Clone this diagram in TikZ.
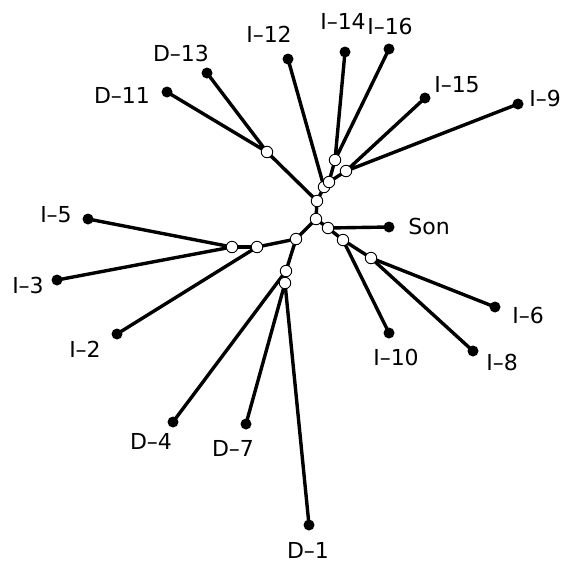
\documentclass[tikz,border=0pt]{standalone}
\usepackage{fontspec}
\setmainfont{DejaVu Sans}
\usetikzlibrary{backgrounds}
\tikzset{
  leaf/.style={circle,fill=black,inner sep=0pt,minimum size=11pt},
  inner/.style={circle,draw=black,fill=white,line width=0.9pt,inner sep=0pt,minimum size=11.5pt},
  lbl/.style={inner sep=0pt,font=\fontsize{22}{24}\selectfont},
  branch/.style={line width=3.4pt}
}
\begin{document}
\begin{tikzpicture}[x=1pt,y=-1pt]
\useasboundingbox (0,0) rectangle (570,563);
% leaves
\node[leaf] (D11) at (167,92) {};
\node[leaf] (D13) at (207,73) {};
\node[leaf] (I12) at (288,59) {};
\node[leaf] (I14) at (345,52) {};
\node[leaf] (I16) at (389,49) {};
\node[leaf] (I15) at (425,98) {};
\node[leaf] (I9) at (518,104) {};
\node[leaf] (I5) at (88,219) {};
\node[leaf] (I3) at (57,280) {};
\node[leaf] (I2) at (117,334) {};
\node[leaf] (D4) at (173,422) {};
\node[leaf] (D7) at (246,424) {};
\node[leaf] (D1) at (309,525) {};
\node[leaf] (Son) at (389,227) {};
\node[leaf] (I10) at (389,333) {};
\node[leaf] (I8) at (473,351) {};
\node[leaf] (I6) at (495,307) {};
% internal
\node[inner] (A) at (267,152) {};
\node[inner] (B) at (335,160) {};
\node[inner] (C) at (346,171) {};
\node[inner] (E) at (324,187) {};
\node[inner] (D) at (329,182) {};
\node[inner] (F) at (317,201) {};
\node[inner] (G) at (316,219) {};
\node[inner] (H) at (328,228) {};
\node[inner] (I) at (343,240) {};
\node[inner] (J) at (371,258) {};
\node[inner] (K) at (296,239) {};
\node[inner] (L) at (257,247) {};
\node[inner] (M) at (232,247) {};
\node[inner] (O) at (285,283) {};
\node[inner] (N) at (286,271) {};
% branches
\begin{scope}[on background layer]
\fill[white] (0,0) rectangle (570,563);
\draw[branch] (D11.center) -- (A.center) -- (D13.center);
\draw[branch] (A.center) -- (F.center);
\draw[branch] (I14.center) -- (B.center) -- (I16.center);
\draw[branch] (I15.center) -- (C.center) -- (I9.center);
\draw[branch] (B.center) -- (D.center) -- (C.center);
\draw[branch] (D.center) -- (E.center);
\draw[branch] (I12.center) -- (E.center);
\draw[branch] (E.center) -- (F.center);
\draw[branch] (F.center) -- (G.center);
\draw[branch] (G.center) -- (H.center);
\draw[branch] (H.center) -- (Son.center);
\draw[branch] (H.center) -- (I.center);
\draw[branch] (I.center) -- (I10.center);
\draw[branch] (I.center) -- (J.center);
\draw[branch] (J.center) -- (I6.center);
\draw[branch] (J.center) -- (I8.center);
\draw[branch] (G.center) -- (K.center);
\draw[branch] (K.center) -- (L.center);
\draw[branch] (L.center) -- (M.center);
\draw[branch] (M.center) -- (I5.center);
\draw[branch] (M.center) -- (I3.center);
\draw[branch] (L.center) -- (I2.center);
\draw[branch] (K.center) -- (N.center);
\draw[branch] (N.center) -- (D4.center);
\draw[branch] (N.center) -- (O.center);
\draw[branch] (O.center) -- (D7.center);
\draw[branch] (O.center) -- (D1.center);
\end{scope}
% labels
\node[lbl] (lD11) at (122,95) {D–11};
\node[lbl] (lD13) at (181,53) {D–13};
\node[lbl] (lI12) at (269,34) {I–12};
\node[lbl] (lI14) at (343,21) {I–14};
\node[lbl] (lI16) at (390,26) {I–16};
\node[lbl] (lI15) at (457,85) {I–15};
\node[lbl] (lI9) at (545,98) {I–9};
\node[lbl] (lI5) at (56,215) {I–5};
\node[lbl] (lI3) at (28,285) {I–3};
\node[lbl] (lI2) at (85,349) {I–2};
\node[lbl] (lD4) at (151,441) {D–4};
\node[lbl] (lD7) at (233,448) {D–7};
\node[lbl] (lD1) at (308,550) {D–1};
\node[lbl] (lSon) at (429,226) {Son};
\node[lbl] (lI10) at (396,357) {I–10};
\node[lbl] (lI8) at (502,362) {I–8};
\node[lbl] (lI6) at (528,315) {I–6};
\end{tikzpicture}
\end{document}
